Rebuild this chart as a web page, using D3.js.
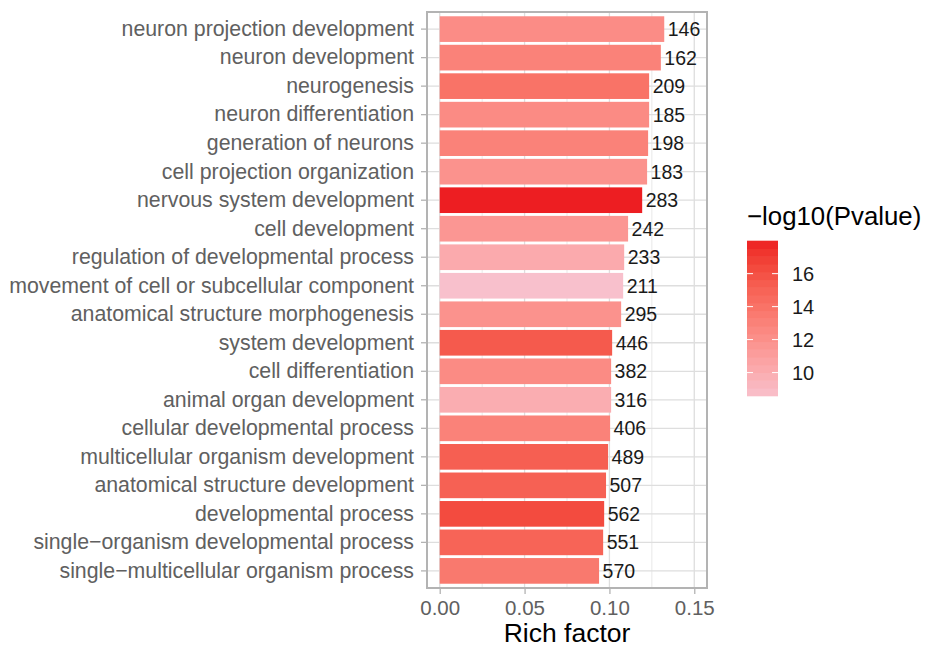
<!DOCTYPE html>
<html>
<head>
<meta charset="utf-8">
<script src="https://cdn.jsdelivr.net/npm/d3@7"></script>
<style>
  html, body { margin: 0; padding: 0; background: #fff; }
  svg { display: block; font-family: "Liberation Sans", Arial, Helvetica, sans-serif; }
</style>
</head>
<body>
<svg id="chart" width="928" height="648"></svg>
<script>
// ---- data ----
const categories = [
  "neuron projection development",
  "neuron development",
  "neurogenesis",
  "neuron differentiation",
  "generation of neurons",
  "cell projection organization",
  "nervous system development",
  "cell development",
  "regulation of developmental process",
  "movement of cell or subcellular component",
  "anatomical structure morphogenesis",
  "system development",
  "cell differentiation",
  "animal organ development",
  "cellular developmental process",
  "multicellular organism development",
  "anatomical structure development",
  "developmental process",
  "single\u2212organism developmental process",
  "single\u2212multicellular organism process"
];
const richFactor = [0.1323, 0.1303, 0.1234, 0.1234, 0.1228, 0.1222, 0.1193, 0.1110, 0.1087, 0.1081,
                    0.1069, 0.1016, 0.1010, 0.1010, 0.1004, 0.0992, 0.0980, 0.0969, 0.0963, 0.0939];
const geneCount = [146, 162, 209, 185, 198, 183, 283, 242, 233, 211,
                   295, 446, 382, 316, 406, 489, 507, 562, 551, 570];
const negLogP = [12.3, 13.0, 14.0, 12.4, 13.0, 11.9, 17.98, 11.6, 10.2, 8.58,
                 11.9, 15.5, 12.4, 10.0, 13.0, 15.2, 15.1, 16.3, 14.9, 13.6];
const xTicks = [0, 0.05, 0.10, 0.15];
const xMinorTicks = [0.025, 0.075, 0.125];
const legendTicks = [10, 12, 14, 16];
const xTitle = "Rich factor";
const legendTitle = "\u2212log10(Pvalue)";
const lowColor = "#F8C0CC";
const highColor = "#ED1E22";

// ---- layout ----
const svg = d3.select("#chart");
const panel = { left: 427, right: 707, top: 12, bottom: 588 };

const x = d3.scaleLinear().domain([-0.0075, 0.1575]).range([panel.left, panel.right]);
const y = d3.scaleBand().domain(categories).range([panel.top, panel.bottom])
  .paddingInner(0.1).paddingOuter(0.15);

const pExtent = d3.extent(negLogP);
const color = d3.scaleLinear().domain(pExtent).range([lowColor, highColor]).interpolate(d3.interpolateLab);

// panel background
svg.append("rect").attr("x", panel.left).attr("y", panel.top)
  .attr("width", panel.right - panel.left).attr("height", panel.bottom - panel.top)
  .attr("fill", "#fff");

// grid
const grid = svg.append("g");
grid.selectAll("line.minor").data(xMinorTicks).join("line")
  .attr("x1", d => x(d)).attr("x2", d => x(d))
  .attr("y1", panel.top).attr("y2", panel.bottom)
  .attr("stroke", "#E3E3E3").attr("stroke-width", 0.8);
grid.selectAll("line.majorx").data(xTicks).join("line")
  .attr("x1", d => x(d)).attr("x2", d => x(d))
  .attr("y1", panel.top).attr("y2", panel.bottom)
  .attr("stroke", "#DEDEDE").attr("stroke-width", 1.3);
grid.selectAll("line.majory").data(categories).join("line")
  .attr("x1", panel.left).attr("x2", panel.right)
  .attr("y1", d => y(d) + y.bandwidth() / 2).attr("y2", d => y(d) + y.bandwidth() / 2)
  .attr("stroke", "#DEDEDE").attr("stroke-width", 1.3);

// bars
svg.append("g").selectAll("rect").data(categories).join("rect")
  .attr("x", x(0))
  .attr("y", d => y(d))
  .attr("width", (d, i) => x(richFactor[i]) - x(0))
  .attr("height", y.bandwidth())
  .attr("fill", (d, i) => color(negLogP[i]));

// count labels
svg.append("g").selectAll("text").data(categories).join("text")
  .attr("x", (d, i) => x(richFactor[i]) + 3.5)
  .attr("y", d => y(d) + y.bandwidth() / 2)
  .attr("dy", "0.36em")
  .attr("font-size", 19.5)
  .attr("fill", "#1a1a1a")
  .text((d, i) => geneCount[i]);

// panel border
svg.append("rect").attr("x", panel.left).attr("y", panel.top)
  .attr("width", panel.right - panel.left).attr("height", panel.bottom - panel.top)
  .attr("fill", "none").attr("stroke", "#B3B3B3").attr("stroke-width", 2);

// y axis
const yAxis = d3.axisLeft(y).tickSize(5).tickPadding(7);
const gy = svg.append("g").attr("transform", `translate(${panel.left - 1},0)`).call(yAxis);
gy.select(".domain").remove();
gy.selectAll(".tick line").attr("stroke", "#B3B3B3").attr("stroke-width", 1.3);
gy.selectAll(".tick text").attr("font-size", 21.3).attr("fill", "#606060")
  .attr("font-family", "'Liberation Sans', Arial, sans-serif");

// x axis
const xAxis = d3.axisBottom(x).tickValues(xTicks).tickFormat(d3.format(".2f")).tickSize(5).tickPadding(6);
const gx = svg.append("g").attr("transform", `translate(0,${panel.bottom + 1})`).call(xAxis);
gx.select(".domain").remove();
gx.selectAll(".tick line").attr("stroke", "#B3B3B3").attr("stroke-width", 1.3);
gx.selectAll(".tick text").attr("font-size", 20.5).attr("fill", "#606060")
  .attr("font-family", "'Liberation Sans', Arial, sans-serif");

// x title
svg.append("text").attr("x", (panel.left + panel.right) / 2).attr("y", 642)
  .attr("text-anchor", "middle").attr("font-size", 26.5).attr("fill", "#000")
  .text(xTitle);

// legend
const leg = { x: 747, w: 31, top: 241, bottom: 396 };
const ly = d3.scaleLinear().domain(pExtent).range([leg.bottom, leg.top]);
svg.append("text").attr("x", 747).attr("y", 225).attr("font-size", 25.8).attr("fill", "#000")
  .text(legendTitle);
const nbin = 20;
const bins = d3.range(nbin).map(i => pExtent[0] + (pExtent[1] - pExtent[0]) * (i + 0.5) / nbin);
const binH = (leg.bottom - leg.top) / nbin;
svg.append("g").selectAll("rect").data(bins).join("rect")
  .attr("x", leg.x).attr("width", leg.w)
  .attr("y", d => ly(d) - binH / 2 - 0.3).attr("height", binH + 0.6)
  .attr("fill", d => color(d));
const lt = svg.append("g");
lt.selectAll("line.l").data(legendTicks).join("line")
  .attr("x1", leg.x).attr("x2", leg.x + 6).attr("y1", d => ly(d)).attr("y2", d => ly(d))
  .attr("stroke", "#fff").attr("stroke-width", 1);
lt.selectAll("line.r").data(legendTicks).join("line")
  .attr("x1", leg.x + leg.w - 6).attr("x2", leg.x + leg.w).attr("y1", d => ly(d)).attr("y2", d => ly(d))
  .attr("stroke", "#fff").attr("stroke-width", 1);
lt.selectAll("text").data(legendTicks).join("text")
  .attr("x", 792).attr("y", d => ly(d)).attr("dy", "0.36em")
  .attr("font-size", 20).attr("fill", "#1a1a1a")
  .text(d => d);
</script>
</body>
</html>
